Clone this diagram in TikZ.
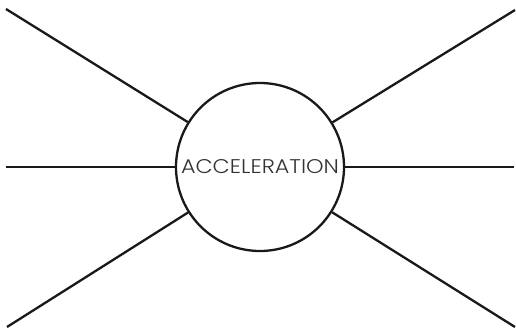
\documentclass[tikz,border=0pt]{standalone}
\usepackage{fontspec}
\setmainfont{Poppins Light}
\usepackage{graphicx}
\begin{document}
\begin{tikzpicture}[x=1pt,y=-1pt,
  ray/.style={line width=2.3pt,black!90},
  hub/.style={circle,draw=black!90,line width=2.3pt,minimum size=168pt,inner sep=0pt}]
\useasboundingbox (0,0) rectangle (516,329);
\node[hub] (c) at (260,167) {};
\node (t) at (260,167) {\resizebox{158pt}{14pt}{\color{black!80}ACCELERATION}};
\coordinate (ul) at (6,9);
\coordinate (l) at (6,167);
\coordinate (ll) at (7,327);
\coordinate (ur) at (515,10);
\coordinate (r) at (514,167);
\coordinate (lr) at (515,327);
\foreach \p in {ul,l,ll,ur,r,lr} \draw[ray] (\p) -- (c);
\end{tikzpicture}
\end{document}
